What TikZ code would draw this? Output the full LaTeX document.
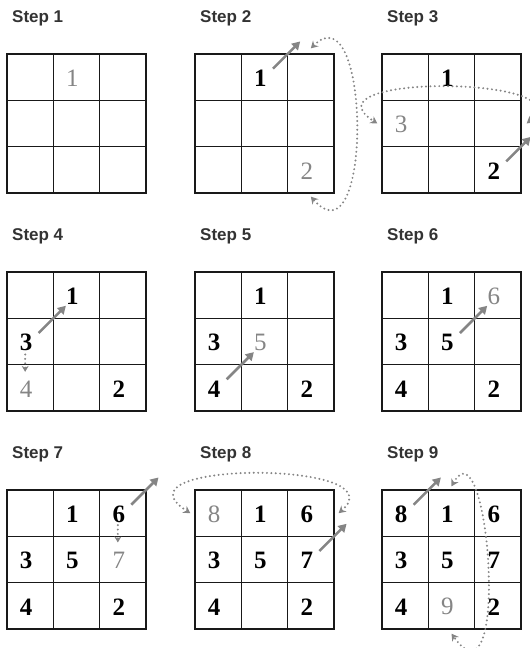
\documentclass[tikz,border=0pt]{standalone}
\usepackage{fontspec}
\setmainfont{Liberation Serif}
\newfontfamily\headfont{Liberation Sans}
\usetikzlibrary{arrows.meta}
\definecolor{hintgray}{HTML}{858585}
\tikzset{
  cell/.style={draw=black!90, line width=1.3pt, minimum size=46.33pt, inner sep=0pt},
  oldnum/.style={inner sep=1pt, font=\fontsize{25}{25}\selectfont\bfseries, text=black},
  newnum/.style={inner sep=1pt, font=\fontsize{25}{25}\selectfont, text=hintgray},
  steptitle/.style={anchor=base west, inner sep=0pt, text=black!80,
    font=\headfont\bfseries\fontsize{17}{17}\selectfont},
  move/.style={hintgray, line width=2.5pt, shorten <=12pt, shorten >=15pt,
    -{Triangle[length=8pt,width=9pt]}},
  dots/.style={hintgray, line width=2.2pt, line cap=round, dash pattern=on 0pt off 4.4pt},
  wrap/.style={dots, {Stealth[length=7pt,width=8pt]}-{Stealth[length=7pt,width=8pt]}},
  drop/.style={dots, -{Stealth[length=6pt,width=7pt]}}
}
% 3x3 square of cells: name, left, top
\newcommand\magicgrid[3]{%
  \foreach \r in {1,2,3}
    \foreach \c in {1,2,3}
      \node[cell] (#1-\r\c) at ({#2+(\c-0.5)*46.33}, {#3+(\r-0.5)*46.33}) {};}
% numbers already placed: square, list of cell/number
\newcommand\oldnums[2]{\foreach \rc/\d in {#2}
  \node[oldnum] (#1-n\d) at ([xshift=-4pt,yshift=-1pt]#1-\rc.center) {\d};}
% number placed in this step
\newcommand\nextnum[3]{\node[newnum] (#1-n#3) at ([xshift=-4pt,yshift=-1pt]#1-#2.center) {#3};}

\begin{document}
\begin{tikzpicture}[x=1pt, y=-1pt]
  \useasboundingbox (0,0) rectangle (530,648);
  \foreach \k/\x/\y in {1/7/54, 2/195/54, 3/382/54,
                        4/7/272, 5/195/272, 6/382/272,
                        7/7/490, 8/195/490, 9/382/490} {
    \magicgrid{s\k}{\x}{\y}
    \node[steptitle] (t\k) at (\x+5, \y-32) {Step \k};
  }
  % step 1
  \nextnum{s1}{12}{1}
  % step 2
  \oldnums{s2}{12/1}
  \nextnum{s2}{33}{2}
  \coordinate (s2-03) at ([yshift=46.33pt]s2-13.center);
  \draw[move] (s2-12.center) -- (s2-03);           % off the top
  \draw[wrap] ([yshift=5pt]s2-13.north) .. controls +(60,-59) and +(62,70) .. ([yshift=-3pt]s2-33.south);
  % step 3
  \oldnums{s3}{12/1, 33/2}
  \nextnum{s3}{21}{3}
  \coordinate (s3-24) at ([xshift=46.33pt]s3-23.center);
  \draw[move, shorten >=19pt] (s3-33.center) -- (s3-24);   % off the right
  \draw[wrap] ([xshift=5pt]s3-23.east) .. controls +(59,-48) and +(-78,-50) .. ([xshift=-4pt]s3-21.west);
  % step 4
  \oldnums{s4}{12/1, 21/3, 33/2}
  \nextnum{s4}{31}{4}
  \draw[move] (s4-21.center) -- (s4-12.center);   % blocked by 1
  \draw[drop] ([shift={(-5,13)}]s4-21.center) -- ([shift={(-5,-16)}]s4-31.center);
  % step 5
  \oldnums{s5}{12/1, 21/3, 31/4, 33/2}
  \nextnum{s5}{22}{5}
  \draw[move] (s5-31.center) -- (s5-22.center);
  % step 6
  \oldnums{s6}{12/1, 21/3, 22/5, 31/4, 33/2}
  \nextnum{s6}{13}{6}
  \draw[move] (s6-22.center) -- (s6-13.center);
  % step 7
  \oldnums{s7}{12/1, 13/6, 21/3, 22/5, 31/4, 33/2}
  \nextnum{s7}{23}{7}
  \coordinate (s7-04) at ([shift={(46.33,-46.33)}]s7-13.center);
  \draw[move] (s7-13.center) -- (s7-04);           % out at the corner
  \draw[drop] ([shift={(-5,12)}]s7-13.center) -- ([shift={(-5,-17)}]s7-23.center);
  % step 8
  \oldnums{s8}{12/1, 13/6, 21/3, 22/5, 23/7, 31/4, 33/2}
  \nextnum{s8}{11}{8}
  \coordinate (s8-14) at ([xshift=46.33pt]s8-13.center);
  \draw[move] (s8-23.center) -- (s8-14);
  \draw[wrap] ([xshift=4pt]s8-13.east) .. controls +(61,-53) and +(-83,-53) .. ([xshift=-4pt]s8-11.west);
  % step 9
  \oldnums{s9}{11/8, 12/1, 13/6, 21/3, 22/5, 23/7, 31/4, 33/2}
  \nextnum{s9}{32}{9}
  \coordinate (s9-02) at ([yshift=46.33pt]s9-12.center);
  \draw[move] (s9-11.center) -- (s9-02);
  \draw[wrap] ([yshift=3pt]s9-12.north) .. controls +(37.5,-67) and +(59.5,83) .. ([yshift=-4pt]s9-32.south);
\end{tikzpicture}
\end{document}
